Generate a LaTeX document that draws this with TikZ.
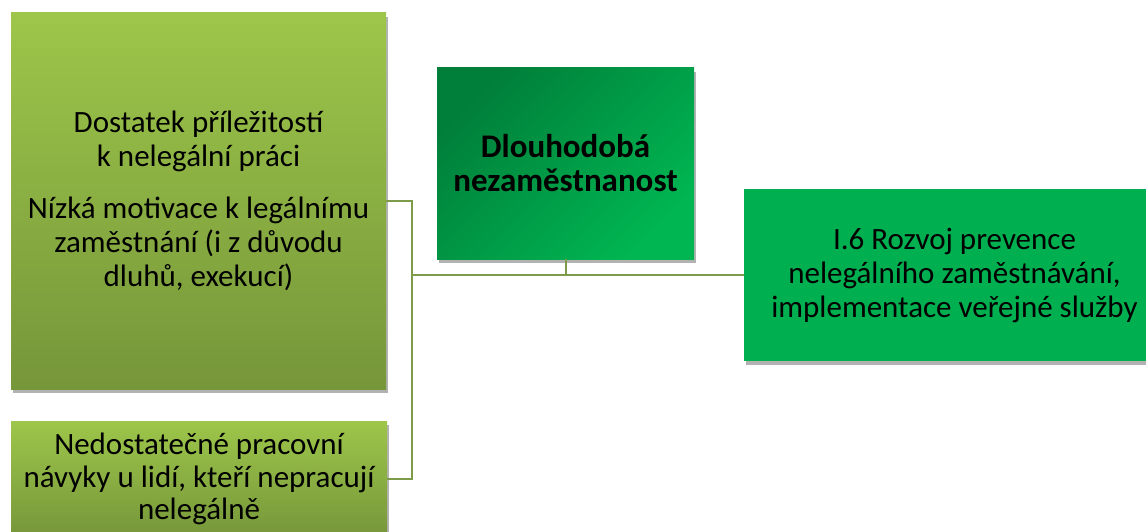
\documentclass[tikz,border=0pt]{standalone}
\usepackage{fontspec}
\setmainfont{Carlito}
\usetikzlibrary{shadows}
\definecolor{lgtop}{HTML}{9DC64A}
\definecolor{lgbot}{HTML}{76963A}
\definecolor{dgA}{HTML}{007F3A}
\definecolor{dgB}{HTML}{00B652}
\definecolor{dgD}{HTML}{00AF50}
\definecolor{connc}{HTML}{7E9B4A}
\begin{document}
\begin{tikzpicture}[x=1pt,y=-1pt,
  box/.style={rectangle, inner sep=0pt, align=center, text=black,
    font=\fontsize{31}{34}\selectfont,
    drop shadow={shadow xshift=2pt, shadow yshift=-4pt, opacity=0.3, fill=black}},
  lbox/.style={box, top color=lgtop, bottom color=lgbot},
  conn/.style={draw=connc, line width=2pt}]
\useasboundingbox (0,0) rectangle (1146,532);
\node[lbox, minimum width=375pt, minimum height=376pt] (A) at (198.5,201)
  {Dostatek příležitostí\\ k nelegální práci\\[18pt]
   Nízká motivace k legálnímu\\ zaměstnání (i z důvodu\\ dluhů, exekucí)};
\node[lbox, minimum width=376pt, minimum height=116pt, font=\fontsize{31}{32.5}\selectfont] (B) at (199,479)
  {Nedostatečné pracovní\\ návyky u lidí, kteří nepracují\\ nelegálně};
\node[box, top color=dgA, bottom color=dgB, shading angle=45,
  minimum width=257pt, minimum height=191pt, font=\fontsize{33}{34}\selectfont\bfseries] (C) at (565.5,163.5)
  {Dlouhodobá\\ nezaměstnanost};
\node[box, fill=dgD, minimum width=421pt, minimum height=172pt] (D) at (954.5,275)
  {I.6 Rozvoj prevence\\ nelegálního zaměstnávání,\\ implementace veřejné služby};
\coordinate (j) at (412,275);
\draw[conn] (A.east) -- (A.east -| j) -- (B.east -| j) -- (B.east);
\draw[conn] (j) -- (D.west);
\draw[conn] (C.south) -- (C.south |- j);
\end{tikzpicture}
\end{document}
